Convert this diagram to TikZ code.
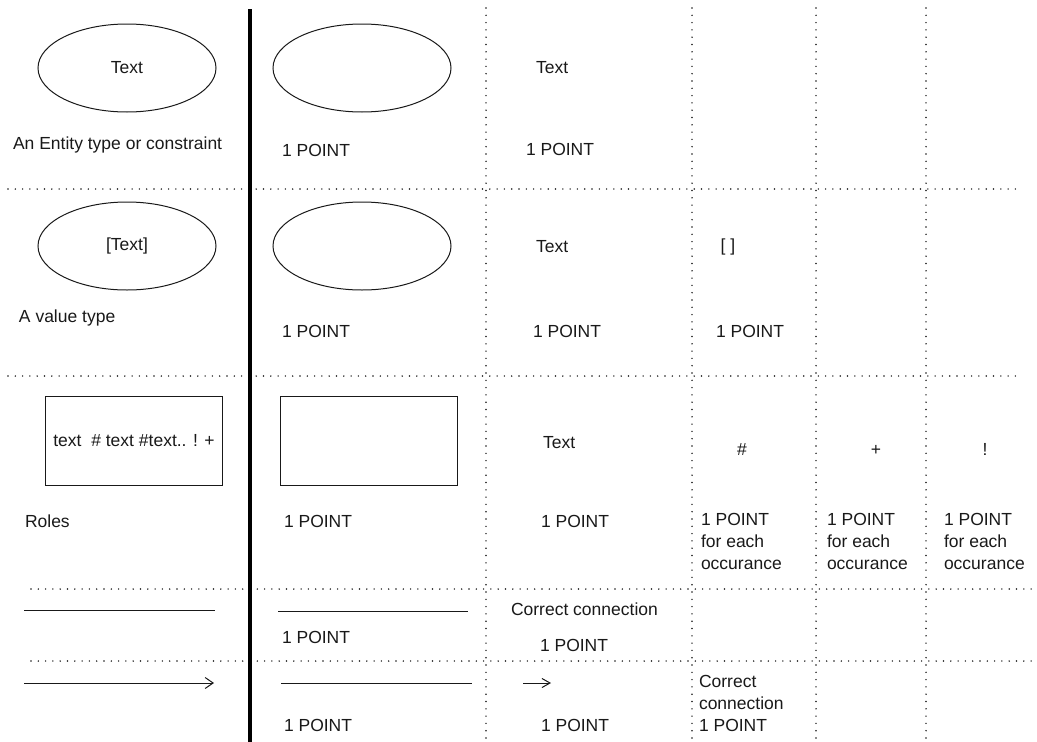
\documentclass[tikz,border=0pt]{standalone}
\usepackage{fontspec}
\setmainfont{Liberation Sans}
\usetikzlibrary{shapes.geometric,arrows.meta}
\begin{document}
\begin{tikzpicture}[x=1pt,y=-1pt,
  every node/.style={inner sep=0pt, outer sep=0pt, font=\fontsize{17.5}{22}\selectfont, text=black!90},
  lbl/.style={anchor=base west},
  ctr/.style={anchor=base},
  multi/.style={anchor=north west, align=left},
  shapeE/.style={ellipse, draw=black!90, line width=1pt, minimum width=178pt, minimum height=88pt},
  shapeR/.style={rectangle, draw=black!90, line width=1pt, minimum width=177pt, minimum height=89pt},
  grid/.style={line width=1.6pt, line cap=round, dash pattern=on 0pt off 7.3pt, black!90},
  divider/.style={line width=3.6pt, black},
  stroke/.style={line width=1pt, black!90},
  arrowstroke/.style={stroke, -{Straight Barb[length=8pt,width=11pt]}},
  smallarrow/.style={stroke, -{Straight Barb[length=8pt,width=9pt]}},
]
\useasboundingbox (0,0) rectangle (1037,742);

% dotted grid of the table
\draw[grid] (8,189) -- (1022,189);
\draw[grid] (8,376) -- (1022,376);
\draw[grid] (31,589) -- (1037,589);
\draw[grid] (31,661) -- (1037,661);
\foreach \gx in {486,692,816,926}
  \draw[grid] (\gx,8) -- (\gx,742);

% heavy divider between the legend column and the scoring columns
\coordinate (divTop) at (250,9);
\coordinate (divBot) at (250,742);
\draw[divider] (divTop) -- (divBot);

% row 1: entity type
\node[shapeE] (entA) at (127,68) {Text};
\node[shapeE] (entB) at (362,68) {};
\node[lbl] (entDesc) at (13,149) {An Entity type or constraint};
\node[lbl] (entPtB) at (282,156) {1 POINT};
\node[lbl] (entTxtC) at (536,73) {Text};
\node[lbl] (entPtC) at (526,155) {1 POINT};

% row 2: value type
\node[shapeE] (valA) at (127,246) {[Text]};
\node[shapeE] (valB) at (362,246) {};
\node[lbl] (valDesc) at (19,322) {A value type};
\node[lbl] (valPtB) at (282,337) {1 POINT};
\node[lbl] (valTxtC) at (536,252) {Text};
\node[lbl] (valPtC) at (533,337) {1 POINT};
\node (valBrD) at (728,247) {[ ]};
\node[lbl] (valPtD) at (716,337) {1 POINT};

% row 3: roles
\node[shapeR] (roleA) at (134,441) {text\ \ \# text \#text.. ! +};
\node[shapeR] (roleB) at (369,441) {};
\node[lbl] (roleDesc) at (25,527) {Roles};
\node[lbl] (rolePtB) at (284,527) {1 POINT};
\node[lbl] (roleTxtC) at (543,448) {Text};
\node[lbl] (rolePtC) at (541,527) {1 POINT};
\node[ctr] (roleHash) at (742,455) {\#};
\node[ctr] (rolePlus) at (876,455) {+};
\node[ctr] (roleBang) at (985,455) {!};
\node[multi] (roleHashPt) at (701,513.4) {1 POINT\\for each\\occurance};
\node[multi] (rolePlusPt) at (827,513.4) {1 POINT\\for each\\occurance};
\node[multi] (roleBangPt) at (944,513.4) {1 POINT\\for each\\occurance};

% row 4: plain connection
\coordinate (conA1) at (24,610);
\coordinate (conA2) at (215,610);
\coordinate (conB1) at (278,611);
\coordinate (conB2) at (468,611);
\draw[stroke] (conA1) -- (conA2);
\draw[stroke] (conB1) -- (conB2);
\node[lbl] (conPtB) at (282,643) {1 POINT};
\node[lbl] (conTxtC) at (511,615) {Correct connection};
\node[lbl] (conPtC) at (540,651) {1 POINT};

% row 5: directed connection
\coordinate (dirA1) at (24,683);
\coordinate (dirA2) at (214,683);
\coordinate (dirB1) at (281,683);
\coordinate (dirB2) at (472,683);
\coordinate (dirC1) at (523,683);
\coordinate (dirC2) at (551,683);
\draw[arrowstroke] (dirA1) -- (dirA2);
\draw[stroke] (dirB1) -- (dirB2);
\draw[smallarrow] (dirC1) -- (dirC2);
\node[lbl] (dirPtB) at (284,731) {1 POINT};
\node[lbl] (dirPtC) at (541,731) {1 POINT};
\node[multi] (dirTxtD) at (699,675.5) {Correct\\connection\\1 POINT};
\end{tikzpicture}
\end{document}
